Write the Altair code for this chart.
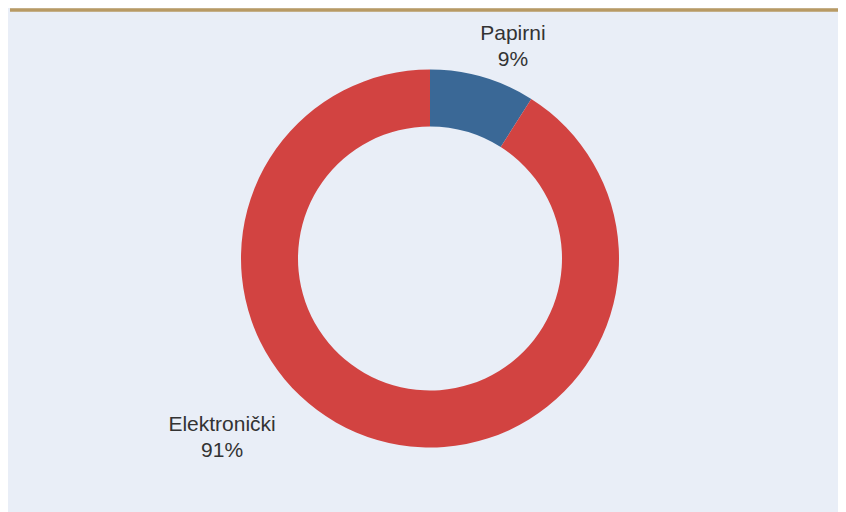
import altair as alt
import pandas as pd

categories = ["Papirni", "Elektronički"]
shares = [9, 91]
labels = ["Papirni\n9%", "Elektronički\n91%"]

df = pd.DataFrame({
    "cat": categories,
    "value": shares,
    "label": labels,
    "order": list(range(len(categories))),
})

W, H = 830, 504
CX, CY = 420, 250.5

color_scale = alt.Scale(domain=categories, range=["#3A6896", "#D24341"])
theta_scale = alt.Scale(domain=[0, sum(shares)])

base = alt.Chart(df).transform_stack(
    stack="value", as_=["v0", "v1"], groupby=[], sort=[alt.SortField("order")]
).transform_calculate(mid="(datum.v0 + datum.v1) / 2")

arcs = base.mark_arc(outerRadius=189, innerRadius=132).encode(
    theta=alt.Theta("v0:Q", scale=theta_scale),
    theta2="v1:Q",
    color=alt.Color("cat:N", scale=color_scale, legend=None),
    x=alt.value(CX),
    y=alt.value(CY),
)

def lbl(name, dx, dy):
    return base.transform_filter(alt.datum.cat == name).mark_text(
        radius=222, dx=dx, dy=dy, font="Liberation Sans", fontSize=21,
        lineBreak="\n", lineHeight=26, align="center", baseline="middle",
        color="#333333",
    ).encode(
        theta=alt.Theta("mid:Q", scale=theta_scale),
        text="label:N", x=alt.value(CX), y=alt.value(CY),
    )

top_rule = alt.Chart(df).mark_rule(color="#B89A64", strokeWidth=3).encode(
    x=alt.value(0), x2=alt.value(W), y=alt.value(2)
)

chart = alt.layer(arcs, lbl("Papirni", 21, -11), lbl("Elektronički", -146, -47), top_rule).properties(
    width=W, height=H,
    autosize=alt.AutoSizeParams(type="fit", contains="padding"),
    padding=0,
    background="#E9EEF7",
).configure_view(stroke=None)

chart.save("out.html", embed_options={"renderer": "svg", "actions": False})
